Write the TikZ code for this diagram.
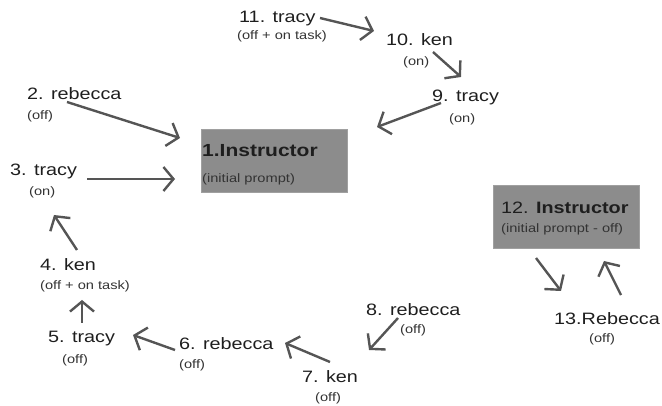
\documentclass[tikz,border=0pt]{standalone}
\usepackage{fontspec}
\setmainfont{Liberation Sans}[FakeStretch=1.2]
\usetikzlibrary{arrows.meta}
\definecolor{txt}{HTML}{1E1E1E}
\definecolor{subtxt}{HTML}{333333}
\definecolor{arr}{HTML}{555555}
\definecolor{boxfill}{HTML}{8C8C8C}
\definecolor{boxline}{HTML}{A0A0A0}
\tikzset{
  lab/.style={font=\fontsize{16.5}{19}\selectfont, text=txt, anchor=base west, inner sep=0pt},
  blab/.style={font=\fontsize{17.5}{20}\selectfont\bfseries, text=txt, anchor=base west, inner sep=0pt},
  sublab/.style={font=\fontsize{12.2}{14}\selectfont, text=subtxt, anchor=base west, inner sep=0pt},
  ibox/.style={draw=boxline, line width=0.6pt, fill=boxfill, anchor=north west, inner sep=0pt},
  conn/.style={draw=arr, line width=2.4pt, -{Straight Barb[length=10pt,width=24pt]}},
}
\begin{document}
\begin{tikzpicture}[x=1pt,y=-1pt]
\useasboundingbox (0,0) rectangle (662,406);
% boxes
\node[ibox, minimum width=146pt, minimum height=63pt] (box1) at (201,129) {};
\node[ibox, minimum width=146pt, minimum height=63pt] (box12) at (493,185) {};
% labels
\node[blab] (n1) at (202,157) {1.Instructor};
\node[sublab] (n1s) at (202,183) {(initial prompt)};
\node[lab] (n2) at (27,100) {2. rebecca};
\node[sublab] (n2s) at (27,120) {(off)};
\node[lab] (n3) at (10,176) {3. tracy};
\node[sublab] (n3s) at (29,196) {(on)};
\node[lab] (n4) at (40,271) {4. ken};
\node[sublab] (n4s) at (40,290) {(off + on task)};
\node[lab] (n5) at (48,342) {5. tracy};
\node[sublab] (n5s) at (62,363) {(off)};
\node[lab] (n6) at (179,349) {6. rebecca};
\node[sublab] (n6s) at (179,368) {(off)};
\node[lab] (n7) at (302,382) {7. ken};
\node[sublab] (n7s) at (315,402) {(off)};
\node[lab] (n8) at (366,316) {8. rebecca};
\node[sublab] (n8s) at (400,334) {(off)};
\node[lab] (n9) at (432,102) {9. tracy};
\node[sublab] (n9s) at (449,123) {(on)};
\node[lab] (n10) at (386,46) {10. ken};
\node[sublab] (n10s) at (403,66) {(on)};
\node[lab] (n11) at (239,23) {11. tracy};
\node[sublab] (n11s) at (237,40) {(off + on task)};
\node[lab] (n12) at (501,214) {12. \textbf{Instructor}};
\node[sublab] (n12s) at (501,233) {(initial prompt - off)};
\node[lab] (n13) at (554,325) {13.Rebecca};
\node[sublab] (n13s) at (589,343) {(off)};
% arrow end points
\coordinate (a11) at (320,18);  \coordinate (b11) at (374,31);
\coordinate (a10) at (433,52);  \coordinate (b10) at (461,77);
\coordinate (a9)  at (441,103); \coordinate (b9)  at (377,127);
\coordinate (a2)  at (67,102);  \coordinate (b2)  at (180,138);
\coordinate (a3)  at (87,179);  \coordinate (b3)  at (175,179);
\coordinate (a4)  at (77,250);  \coordinate (b4)  at (54,215);
\coordinate (a5)  at (82,323);  \coordinate (b5)  at (82,300);
\coordinate (a6)  at (175,350); \coordinate (b6)  at (133,335);
\coordinate (a7)  at (330,362); \coordinate (b7)  at (285,343);
\coordinate (a8)  at (398,318); \coordinate (b8)  at (369,350);
\coordinate (a12) at (536,258); \coordinate (b12) at (561,291);
\coordinate (a13) at (621,295); \coordinate (b13) at (604,261);
% connectors
\draw[conn] (a11) -- (b11);
\draw[conn] (a10) -- (b10);
\draw[conn] (a9) -- (b9);
\draw[conn] (a2) -- (b2);
\draw[conn] (a3) -- (b3);
\draw[conn] (a4) -- (b4);
\draw[conn] (a5) -- (b5);
\draw[conn] (a6) -- (b6);
\draw[conn] (a7) -- (b7);
\draw[conn] (a8) -- (b8);
\draw[conn] (a12) -- (b12);
\draw[conn] (a13) -- (b13);
\end{tikzpicture}
\end{document}
